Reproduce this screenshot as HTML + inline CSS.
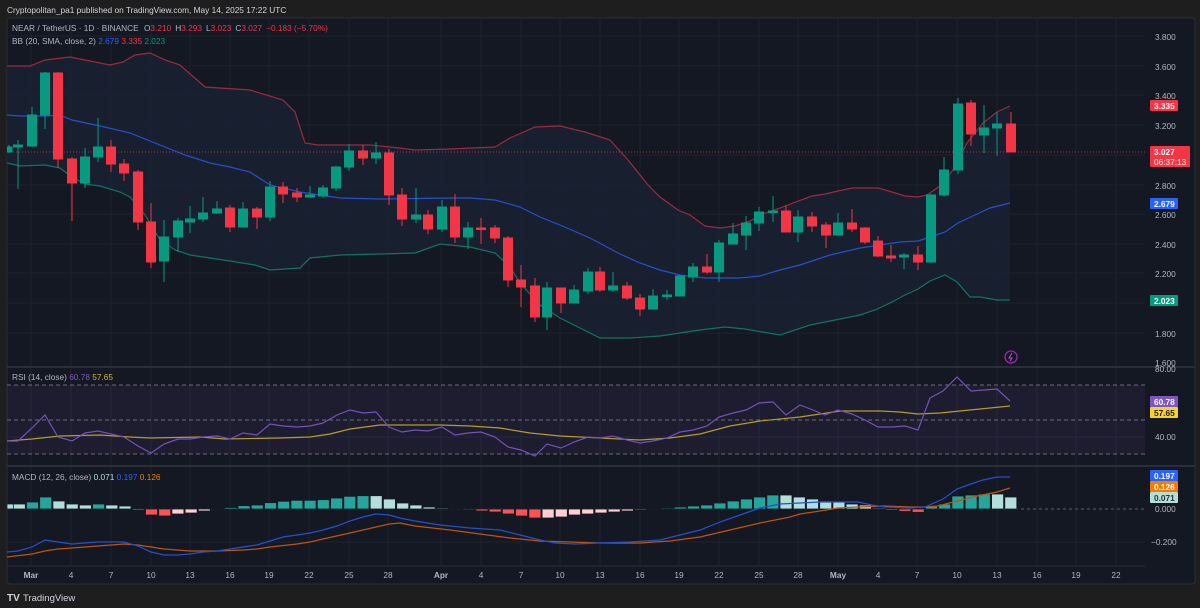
<!DOCTYPE html>
<html><head><meta charset="utf-8"><style>
html,body{margin:0;padding:0;background:#1e1e1e;width:1200px;height:608px;overflow:hidden}
svg{display:block}
text{font-family:"Liberation Sans",sans-serif}
</style></head><body>
<svg width="1200" height="608" viewBox="0 0 1200 608" xmlns="http://www.w3.org/2000/svg">
<defs><clipPath id="c"><rect x="7" y="18" width="1138" height="548"/></clipPath></defs>
<rect x="0" y="0" width="1200" height="608" fill="#1e1e1e"/>
<rect x="7" y="18" width="1188" height="566" rx="3" fill="#141822" stroke="#2a2e39"/>
<text x="7" y="13" font-size="8.3" fill="#d1d4dc">Cryptopolitan_pa1 published on TradingView.com, May 14, 2025 17:22 UTC</text>
<!-- grid -->
<g stroke="#1e2230" stroke-width="1">
<line x1="7" y1="36" x2="1145" y2="36"/><line x1="7" y1="66" x2="1145" y2="66"/><line x1="7" y1="95" x2="1145" y2="95"/><line x1="7" y1="125" x2="1145" y2="125"/><line x1="7" y1="155" x2="1145" y2="155"/><line x1="7" y1="185" x2="1145" y2="185"/><line x1="7" y1="214" x2="1145" y2="214"/><line x1="7" y1="244" x2="1145" y2="244"/><line x1="7" y1="273" x2="1145" y2="273"/><line x1="7" y1="303" x2="1145" y2="303"/><line x1="7" y1="333" x2="1145" y2="333"/><line x1="7" y1="437" x2="1145" y2="437"/><line x1="7" y1="542" x2="1145" y2="542"/>
<line x1="31" y1="18" x2="31" y2="566"/><line x1="71" y1="18" x2="71" y2="566"/><line x1="111" y1="18" x2="111" y2="566"/><line x1="151" y1="18" x2="151" y2="566"/><line x1="190" y1="18" x2="190" y2="566"/><line x1="230" y1="18" x2="230" y2="566"/><line x1="269" y1="18" x2="269" y2="566"/><line x1="309" y1="18" x2="309" y2="566"/><line x1="349" y1="18" x2="349" y2="566"/><line x1="388" y1="18" x2="388" y2="566"/><line x1="441" y1="18" x2="441" y2="566"/><line x1="481" y1="18" x2="481" y2="566"/><line x1="521" y1="18" x2="521" y2="566"/><line x1="560" y1="18" x2="560" y2="566"/><line x1="600" y1="18" x2="600" y2="566"/><line x1="640" y1="18" x2="640" y2="566"/><line x1="679" y1="18" x2="679" y2="566"/><line x1="719" y1="18" x2="719" y2="566"/><line x1="759" y1="18" x2="759" y2="566"/><line x1="798" y1="18" x2="798" y2="566"/><line x1="838" y1="18" x2="838" y2="566"/><line x1="878" y1="18" x2="878" y2="566"/><line x1="917" y1="18" x2="917" y2="566"/><line x1="957" y1="18" x2="957" y2="566"/><line x1="997" y1="18" x2="997" y2="566"/><line x1="1037" y1="18" x2="1037" y2="566"/><line x1="1076" y1="18" x2="1076" y2="566"/><line x1="1116" y1="18" x2="1116" y2="566"/>
</g>
<g clip-path="url(#c)">
<polygon fill="#1a2234" fill-opacity="0.75" points="7,66 30,66 45,60 70,57 95,62 110,65 123,62 135,55 150,53 165,60 180,65 205,87 250,90 283,100 295,112 305,143 318,145 345,145 370,145 400,148 415,150 450,149 495,147 510,138 535,127 560,126 585,132 610,140 628,160 648,185 660,197 678,210 690,215 705,226 720,228 735,226 750,221 760,215 780,208 793,203 812,196 825,194 838,191 852,188 878,188 892,192 905,196 918,197 927,195 940,186 953,170 967,143 983,123 997,112 1010,106 1010,300 997,300 980,297 970,297 957,282 945,275 930,281 918,289 905,295 890,303 875,310 860,315 835,320 810,325 795,330 780,335 745,329 725,327 700,330 680,333 660,336 630,338 600,338 560,318 540,305 520,283 510,267 495,253 470,247 440,244 415,253 380,254 340,255 310,258 300,268 270,270 255,265 230,261 210,258 190,255 175,250 160,240 145,215 130,197 120,192 100,186 85,184 72,177 60,168 45,165 20,166 7,163"/>
<polyline fill="none" stroke="#9c2a3f" stroke-width="1.2" points="7,66 30,66 45,60 70,57 95,62 110,65 123,62 135,55 150,53 165,60 180,65 205,87 250,90 283,100 295,112 305,143 318,145 345,145 370,145 400,148 415,150 450,149 495,147 510,138 535,127 560,126 585,132 610,140 628,160 648,185 660,197 678,210 690,215 705,226 720,228 735,226 750,221 760,215 780,208 793,203 812,196 825,194 838,191 852,188 878,188 892,192 905,196 918,197 927,195 940,186 953,170 967,143 983,123 997,112 1010,106"/>
<polyline fill="none" stroke="#2450d0" stroke-width="1.2" points="7,115 20,116 45,116 60,115 72,120 100,126 130,133 160,145 185,155 210,163 230,167 250,172 270,185 300,192 340,198 380,199 450,198 470,198 495,200 520,207 540,217 560,225 590,238 620,254 640,263 660,270 680,275 705,278 740,278 760,276 780,270 800,265 830,255 860,248 880,245 900,242 918,241 930,237 945,232 958,223 975,215 990,208 1010,203"/>
<polyline fill="none" stroke="#137363" stroke-width="1.2" points="7,163 20,166 45,165 60,168 72,177 85,184 100,186 120,192 130,197 145,215 160,240 175,250 190,255 210,258 230,261 255,265 270,270 300,268 310,258 340,255 380,254 415,253 440,244 470,247 495,253 510,267 520,283 540,305 560,318 600,338 630,338 660,336 680,333 700,330 725,327 745,329 780,335 795,330 810,325 835,320 860,315 875,310 890,303 905,295 918,289 930,281 945,275 957,282 970,297 980,297 997,300 1010,300"/>
<line x1="7" y1="152" x2="1145" y2="152" stroke="#f23645" stroke-width="1" stroke-dasharray="1,2" opacity="0.7"/>
<g stroke-width="1">
<g fill="#089981" stroke="#089981">
<line x1="9" y1="145" x2="9" y2="153"/><rect x="7" y="147" width="5" height="5"/>
<line x1="18" y1="140" x2="18" y2="189"/><rect x="13.5" y="145" width="9" height="2"/>
<line x1="32" y1="107" x2="32" y2="147"/><rect x="27.5" y="115" width="9" height="31"/>
<line x1="45" y1="72" x2="45" y2="129"/><rect x="40.5" y="73" width="9" height="42"/>
<line x1="85" y1="148" x2="85" y2="188"/><rect x="80.5" y="157" width="9" height="26"/>
<line x1="98" y1="118" x2="98" y2="162"/><rect x="93.5" y="147" width="9" height="10"/>
<line x1="164" y1="220" x2="164" y2="282"/><rect x="159.5" y="237" width="9" height="24"/>
<line x1="178" y1="218" x2="178" y2="252"/><rect x="173.5" y="221" width="9" height="16"/>
<line x1="190" y1="206" x2="190" y2="233"/><rect x="185.5" y="219" width="9" height="3"/>
<line x1="203" y1="197" x2="203" y2="222"/><rect x="198.5" y="213" width="9" height="6"/>
<line x1="217" y1="201" x2="217" y2="214"/><rect x="212.5" y="209" width="9" height="4"/>
<line x1="243" y1="202" x2="243" y2="227"/><rect x="238.5" y="209" width="9" height="18"/>
<line x1="270" y1="181" x2="270" y2="221"/><rect x="265.5" y="187" width="9" height="30"/>
<line x1="310" y1="186" x2="310" y2="198"/><rect x="305.5" y="195" width="9" height="2"/>
<line x1="323" y1="185" x2="323" y2="198"/><rect x="318.5" y="188" width="9" height="8"/>
<line x1="336" y1="166" x2="336" y2="191"/><rect x="331.5" y="167" width="9" height="21"/>
<line x1="349" y1="144" x2="349" y2="171"/><rect x="344.5" y="151" width="9" height="16"/>
<line x1="376" y1="142" x2="376" y2="164"/><rect x="371.5" y="153" width="9" height="5"/>
<line x1="416" y1="188" x2="416" y2="223"/><rect x="411.5" y="215" width="9" height="4"/>
<line x1="442" y1="200" x2="442" y2="232"/><rect x="437.5" y="207" width="9" height="22"/>
<line x1="468" y1="222" x2="468" y2="249"/><rect x="463.5" y="228" width="9" height="9"/>
<line x1="547" y1="282" x2="547" y2="330"/><rect x="542.5" y="288" width="9" height="29"/>
<line x1="574" y1="285" x2="574" y2="303"/><rect x="569.5" y="290" width="9" height="13"/>
<line x1="588" y1="268" x2="588" y2="294"/><rect x="583.5" y="272" width="9" height="19"/>
<line x1="613" y1="272" x2="613" y2="292"/><rect x="608.5" y="286" width="9" height="4"/>
<line x1="653" y1="289" x2="653" y2="309"/><rect x="648.5" y="296" width="9" height="13"/>
<line x1="667" y1="290" x2="667" y2="300"/><rect x="662.5" y="295" width="9" height="1.5"/>
<line x1="680" y1="275" x2="680" y2="296"/><rect x="675.5" y="276" width="9" height="20"/>
<line x1="693" y1="263" x2="693" y2="282"/><rect x="688.5" y="267" width="9" height="10"/>
<line x1="719" y1="240" x2="719" y2="282"/><rect x="714.5" y="243" width="9" height="29"/>
<line x1="733" y1="223" x2="733" y2="244"/><rect x="728.5" y="234" width="9" height="10"/>
<line x1="746" y1="216" x2="746" y2="250"/><rect x="741.5" y="223" width="9" height="12"/>
<line x1="759" y1="207" x2="759" y2="231"/><rect x="754.5" y="212" width="9" height="11"/>
<line x1="773" y1="196" x2="773" y2="222"/><rect x="768.5" y="211" width="9" height="1.5"/>
<line x1="798" y1="210" x2="798" y2="242"/><rect x="793.5" y="217" width="9" height="15"/>
<line x1="838" y1="213" x2="838" y2="235"/><rect x="833.5" y="223" width="9" height="12"/>
<line x1="904" y1="253" x2="904" y2="269"/><rect x="899.5" y="255" width="9" height="2"/>
<line x1="931" y1="194" x2="931" y2="263"/><rect x="926.5" y="195" width="9" height="67"/>
<line x1="944" y1="157" x2="944" y2="197"/><rect x="939.5" y="170" width="9" height="25"/>
<line x1="958" y1="98" x2="958" y2="174"/><rect x="953.5" y="104" width="9" height="66"/>
<line x1="984" y1="105" x2="984" y2="153"/><rect x="979.5" y="128" width="9" height="7"/>
<line x1="997" y1="112" x2="997" y2="156"/><rect x="992.5" y="124" width="9" height="4"/>
</g>
<g fill="#f23645" stroke="#f23645">
<line x1="58" y1="72" x2="58" y2="168"/><rect x="53.5" y="73" width="9" height="86"/>
<line x1="72" y1="157" x2="72" y2="221"/><rect x="67.5" y="159" width="9" height="24"/>
<line x1="111" y1="140" x2="111" y2="172"/><rect x="106.5" y="147" width="9" height="17"/>
<line x1="124" y1="159" x2="124" y2="181"/><rect x="119.5" y="164" width="9" height="9"/>
<line x1="138" y1="170" x2="138" y2="230"/><rect x="133.5" y="172" width="9" height="50"/>
<line x1="151" y1="203" x2="151" y2="268"/><rect x="146.5" y="222" width="9" height="40"/>
<line x1="230" y1="205" x2="230" y2="232"/><rect x="225.5" y="208" width="9" height="19"/>
<line x1="257" y1="207" x2="257" y2="229"/><rect x="252.5" y="209" width="9" height="8"/>
<line x1="283" y1="182" x2="283" y2="203"/><rect x="278.5" y="187" width="9" height="7"/>
<line x1="297" y1="188" x2="297" y2="202"/><rect x="292.5" y="193" width="9" height="4"/>
<line x1="363" y1="145" x2="363" y2="165"/><rect x="358.5" y="151" width="9" height="7"/>
<line x1="389" y1="149" x2="389" y2="205"/><rect x="384.5" y="153" width="9" height="42"/>
<line x1="402" y1="188" x2="402" y2="226"/><rect x="397.5" y="195" width="9" height="24"/>
<line x1="428" y1="210" x2="428" y2="234"/><rect x="423.5" y="215" width="9" height="14"/>
<line x1="455" y1="194" x2="455" y2="243"/><rect x="450.5" y="207" width="9" height="30"/>
<line x1="481" y1="218" x2="481" y2="244"/><rect x="476.5" y="228" width="9" height="1.5"/>
<line x1="495" y1="225" x2="495" y2="243"/><rect x="490.5" y="228" width="9" height="10"/>
<line x1="508" y1="236" x2="508" y2="287"/><rect x="503.5" y="238" width="9" height="42"/>
<line x1="521" y1="265" x2="521" y2="307"/><rect x="516.5" y="280" width="9" height="7"/>
<line x1="535" y1="278" x2="535" y2="322"/><rect x="530.5" y="286" width="9" height="31"/>
<line x1="561" y1="288" x2="561" y2="313"/><rect x="556.5" y="288" width="9" height="15"/>
<line x1="600" y1="267" x2="600" y2="292"/><rect x="595.5" y="272" width="9" height="18"/>
<line x1="627" y1="282" x2="627" y2="300"/><rect x="622.5" y="286" width="9" height="12"/>
<line x1="640" y1="294" x2="640" y2="316"/><rect x="635.5" y="298" width="9" height="11"/>
<line x1="707" y1="254" x2="707" y2="274"/><rect x="702.5" y="267" width="9" height="5"/>
<line x1="786" y1="206" x2="786" y2="232"/><rect x="781.5" y="211" width="9" height="21"/>
<line x1="812" y1="212" x2="812" y2="232"/><rect x="807.5" y="217" width="9" height="9"/>
<line x1="826" y1="222" x2="826" y2="248"/><rect x="821.5" y="225" width="9" height="10"/>
<line x1="852" y1="209" x2="852" y2="232"/><rect x="847.5" y="223" width="9" height="6"/>
<line x1="865" y1="227" x2="865" y2="244"/><rect x="860.5" y="228" width="9" height="14"/>
<line x1="878" y1="236" x2="878" y2="257"/><rect x="873.5" y="241" width="9" height="15"/>
<line x1="891" y1="245" x2="891" y2="262"/><rect x="886.5" y="256" width="9" height="2"/>
<line x1="918" y1="246" x2="918" y2="270"/><rect x="913.5" y="255" width="9" height="7"/>
<line x1="971" y1="100" x2="971" y2="146"/><rect x="966.5" y="103" width="9" height="31"/>
<line x1="1011" y1="112" x2="1011" y2="152"/><rect x="1006.5" y="124" width="9" height="28"/>
</g>
</g>
</g>
<circle cx="1011" cy="357" r="6" fill="none" stroke="#9c27b0" stroke-width="1.3"/>
<path d="M1012,353 L1009,358 L1012,358 L1010,361" fill="none" stroke="#c04fd6" stroke-width="1"/>
<line x1="7" y1="367" x2="1195" y2="367" stroke="#2a2e39" stroke-width="2"/>
<line x1="7" y1="466" x2="1195" y2="466" stroke="#2a2e39" stroke-width="2"/>
<rect x="7" y="385" width="1138" height="69" fill="#7e57c2" fill-opacity="0.09"/>
<g stroke="#6a6d78" stroke-dasharray="4,3" stroke-width="1">
<line x1="7" y1="385" x2="1145" y2="385"/><line x1="7" y1="420" x2="1145" y2="420"/><line x1="7" y1="454" x2="1145" y2="454"/>
</g>
<polyline fill="none" stroke="#b59a2e" stroke-width="1.2" points="7,441 32,439 60,436 100,435 130,437 150,438 200,437 225,439 280,438 310,437 330,434 350,429 380,425 400,425 440,425 470,426 500,428 530,433 560,436 600,438 640,440 670,438 700,434 730,426 760,421 800,417 840,411 880,411 900,412 918,414 940,413 960,411 1010,406"/>
<polyline fill="none" stroke="#7451b8" stroke-width="1.2" points="7,441 18,441 32,428 45,415 58,437 72,441 85,433 98,431 111,434 124,437 138,446 151,453 164,444 178,439 190,439 203,437 217,436 230,439 243,433 257,435 270,424 283,426 297,427 310,426 323,423 337,415 350,410 363,413 376,412 389,427 402,432 415,430 428,431 442,427 455,435 468,433 481,432 495,437 508,447 521,450 535,456 547,444 561,448 574,442 588,437 600,438 613,436 627,440 640,443 653,441 667,438 680,432 693,430 707,426 719,417 733,413 746,410 759,403 773,402 786,415 800,405 813,410 825,415 838,410 852,414 865,420 878,427 892,427 905,426 918,430 930,398 943,391 957,377 971,391 984,390 997,389 1010,401"/>
<line x1="7" y1="509" x2="1145" y2="509" stroke="#5d606b" stroke-dasharray="3,3"/>
<g stroke="#141822" stroke-width="0.8" clip-path="url(#c)">
<rect x="7" y="504" width="12" height="5" fill="#b2dfdb"/><rect x="13.3" y="504" width="12" height="5" fill="#b2dfdb"/><rect x="26.5" y="502" width="12" height="7" fill="#26a69a"/><rect x="39.7" y="497" width="12" height="12" fill="#26a69a"/><rect x="52.9" y="501" width="12" height="8" fill="#b2dfdb"/><rect x="66.2" y="504" width="12" height="5" fill="#b2dfdb"/><rect x="79.4" y="505" width="12" height="4" fill="#b2dfdb"/><rect x="92.6" y="504" width="12" height="5" fill="#26a69a"/><rect x="105.8" y="505" width="12" height="4" fill="#b2dfdb"/><rect x="119" y="506" width="12" height="3" fill="#b2dfdb"/>
<rect x="132.3" y="509" width="12" height="1.3" fill="#ff5252"/><rect x="145.5" y="509" width="12" height="6" fill="#ff5252"/><rect x="158.7" y="509" width="12" height="7" fill="#ff5252"/><rect x="171.9" y="509" width="12" height="5" fill="#ffcdd2"/><rect x="185.1" y="509" width="12" height="4" fill="#ffcdd2"/><rect x="198.3" y="509" width="12" height="2" fill="#ffcdd2"/>
<rect x="211.6" y="508.5" width="12" height="0.5" fill="#26a69a"/><rect x="224.8" y="507.5" width="12" height="1.5" fill="#26a69a"/><rect x="238" y="505.7" width="12" height="3.3" fill="#26a69a"/><rect x="251.2" y="505" width="12" height="4" fill="#26a69a"/><rect x="264.5" y="502.7" width="12" height="6.3" fill="#26a69a"/><rect x="277.7" y="501.3" width="12" height="7.7" fill="#26a69a"/><rect x="290.9" y="500.3" width="12" height="8.7" fill="#26a69a"/><rect x="304.1" y="500.3" width="12" height="8.7" fill="#26a69a"/><rect x="317.3" y="499.7" width="12" height="9.3" fill="#26a69a"/><rect x="330.6" y="498" width="12" height="11" fill="#26a69a"/><rect x="343.8" y="496.3" width="12" height="12.7" fill="#26a69a"/><rect x="357" y="495.7" width="12" height="13.3" fill="#26a69a"/><rect x="370.2" y="495.7" width="12" height="13.3" fill="#b2dfdb"/><rect x="383.4" y="499" width="12" height="10" fill="#b2dfdb"/><rect x="396.7" y="503" width="12" height="6" fill="#b2dfdb"/><rect x="409.9" y="505" width="12" height="4" fill="#b2dfdb"/><rect x="423.1" y="507" width="12" height="2" fill="#b2dfdb"/><rect x="436.3" y="508" width="12" height="1" fill="#b2dfdb"/><rect x="449.5" y="508.5" width="12" height="0.5" fill="#b2dfdb"/>
<rect x="462.8" y="509" width="12" height="1" fill="#ff5252"/><rect x="476" y="509" width="12" height="2" fill="#ff5252"/><rect x="489.2" y="509" width="12" height="3" fill="#ff5252"/><rect x="502.4" y="509" width="12" height="5" fill="#ff5252"/><rect x="515.6" y="509" width="12" height="7" fill="#ff5252"/><rect x="528.9" y="509" width="12" height="9" fill="#ff5252"/><rect x="542.1" y="509" width="12" height="9" fill="#ffcdd2"/><rect x="555.3" y="509" width="12" height="8" fill="#ffcdd2"/><rect x="568.5" y="509" width="12" height="6" fill="#ffcdd2"/><rect x="581.7" y="509" width="12" height="5" fill="#ffcdd2"/><rect x="595" y="509" width="12" height="4" fill="#ffcdd2"/><rect x="608.2" y="509" width="12" height="3" fill="#ffcdd2"/><rect x="621.4" y="509" width="12" height="2" fill="#ffcdd2"/><rect x="634.6" y="509" width="12" height="1" fill="#ffcdd2"/>
<rect x="647.8" y="508.5" width="12" height="0.5" fill="#26a69a"/><rect x="661.1" y="508" width="12" height="1" fill="#26a69a"/><rect x="674.3" y="507" width="12" height="2" fill="#26a69a"/><rect x="687.5" y="506" width="12" height="3" fill="#26a69a"/><rect x="700.7" y="505" width="12" height="4" fill="#26a69a"/><rect x="713.9" y="503" width="12" height="6" fill="#26a69a"/><rect x="727.2" y="501" width="12" height="8" fill="#26a69a"/><rect x="740.4" y="499" width="12" height="10" fill="#26a69a"/><rect x="753.6" y="497" width="12" height="12" fill="#26a69a"/><rect x="766.8" y="495" width="12" height="14" fill="#26a69a"/><rect x="780" y="495" width="12" height="14" fill="#b2dfdb"/><rect x="793.3" y="497" width="12" height="12" fill="#b2dfdb"/><rect x="806.5" y="499" width="12" height="10" fill="#b2dfdb"/><rect x="819.7" y="501" width="12" height="8" fill="#b2dfdb"/><rect x="832.9" y="502" width="12" height="7" fill="#b2dfdb"/><rect x="846.1" y="504" width="12" height="5" fill="#b2dfdb"/><rect x="859.4" y="505" width="12" height="4" fill="#b2dfdb"/><rect x="872.6" y="508" width="12" height="1" fill="#b2dfdb"/>
<rect x="885.8" y="509" width="12" height="1.3" fill="#ff5252"/><rect x="899" y="509" width="12" height="2.3" fill="#ff5252"/><rect x="912.2" y="509" width="12" height="3.3" fill="#ff5252"/>
<rect x="925.5" y="506.3" width="12" height="2.7" fill="#26a69a"/><rect x="938.7" y="504" width="12" height="5" fill="#26a69a"/><rect x="951.9" y="496" width="12" height="13" fill="#26a69a"/><rect x="965.1" y="495" width="12" height="14" fill="#26a69a"/><rect x="978.3" y="494" width="12" height="15" fill="#26a69a"/><rect x="991.6" y="494" width="12" height="15" fill="#b2dfdb"/><rect x="1004.8" y="497" width="12" height="12" fill="#b2dfdb"/>
</g>
<polyline fill="none" stroke="#c1530f" stroke-width="1.2" points="7,557 32,554 45,551 58,549 72,548 98,546 124,544 138,545 151,547 164,549 190,551 217,551 243,550 257,549 270,547 297,544 310,542 323,539 350,533 376,527 389,524 400,523 415,526 450,530 480,534 510,538 540,541 570,542 600,543 640,543 670,541 700,537 730,530 760,523 790,517 800,514 820,511 838,508 858,507 885,506 910,507 925,507 938,506 957,501 977,496 997,492 1010,488"/>
<polyline fill="none" stroke="#2450d0" stroke-width="1.2" points="7,552 18,551 32,547 45,540 58,542 72,544 85,543 98,542 124,542 138,546 151,552 164,555 178,555 190,554 203,552 217,551 230,549 243,547 257,545 270,541 283,537 297,535 310,533 323,530 337,526 350,521 363,517 376,514 389,515 400,518 415,521 440,525 470,528 500,530 520,535 540,540 555,543 575,544 600,543 630,542 660,540 680,535 700,530 720,522 740,515 760,508 780,504 800,503 820,502 858,502 872,505 885,507 910,508 925,507 943,499 957,489 971,484 983,480 997,477 1010,477"/>
<g font-size="8.3">
<text x="12" y="31" fill="#b2b5be">NEAR / TetherUS · 1D · BINANCE <tspan dx="3">O</tspan><tspan fill="#f23645">3.210</tspan><tspan dx="4">H</tspan><tspan fill="#f23645">3.293</tspan><tspan dx="4">L</tspan><tspan fill="#f23645">3.023</tspan><tspan dx="4">C</tspan><tspan fill="#f23645">3.027</tspan><tspan dx="4" fill="#f23645">−0.183 (−5.70%)</tspan></text>
<text x="12" y="44" fill="#b2b5be">BB (20, SMA, close, 2) <tspan fill="#2962ff">2.679</tspan> <tspan fill="#f23645">3.335</tspan> <tspan fill="#089981">2.023</tspan></text>
<text x="12" y="380" fill="#b2b5be">RSI (14, close) <tspan fill="#7e57c2">60.78</tspan> <tspan fill="#d4b42a">57.65</tspan></text>
<text x="12" y="480" fill="#b2b5be">MACD (12, 26, close) <tspan fill="#b2dfdb">0.071</tspan> <tspan fill="#2962ff">0.197</tspan> <tspan fill="#f57c00">0.126</tspan></text>
</g>
<g font-size="8.3" fill="#b2b5be">
<text x="1155" y="40">3.800</text><text x="1155" y="70">3.600</text><text x="1155" y="99">3.400</text><text x="1155" y="129">3.200</text><text x="1155" y="189">2.800</text><text x="1155" y="218">2.600</text><text x="1155" y="248">2.400</text><text x="1155" y="277">2.200</text><text x="1155" y="337">1.800</text><text x="1155" y="366">1.600</text>
<text x="1155" y="372">80.00</text><text x="1155" y="440">40.00</text>
<text x="1155" y="512">0.000</text><text x="1151" y="545">−0.200</text>
</g>
<g font-size="8.3" font-weight="bold">
<rect x="1150" y="100" width="28" height="11" rx="1" fill="#f23645"/><text x="1154" y="109" fill="#fff">3.335</text>
<rect x="1150" y="146" width="40" height="21" rx="1" fill="#f23645"/><text x="1154" y="155" fill="#fff">3.027</text><text x="1154" y="165" fill="#fff" font-weight="normal">06:37:13</text>
<rect x="1150" y="198" width="28" height="11" rx="1" fill="#2962ff"/><text x="1154" y="207" fill="#fff">2.679</text>
<rect x="1150" y="295" width="28" height="11" rx="1" fill="#089981"/><text x="1154" y="304" fill="#fff">2.023</text>
<rect x="1150" y="396" width="28" height="11" rx="1" fill="#7e57c2"/><text x="1154" y="405" fill="#fff">60.78</text>
<rect x="1150" y="407" width="28" height="11" rx="1" fill="#f7d12e"/><text x="1154" y="416" fill="#222">57.65</text>
<rect x="1150" y="470" width="28" height="11" rx="1" fill="#2962ff"/><text x="1154" y="479" fill="#fff">0.197</text>
<rect x="1150" y="481" width="28" height="11" rx="1" fill="#f57c00"/><text x="1154" y="490" fill="#fff">0.126</text>
<rect x="1150" y="492" width="28" height="11" rx="1" fill="#b2dfdb"/><text x="1154" y="501" fill="#333">0.071</text>
</g>
<line x1="7" y1="566" x2="1145" y2="566" stroke="#2a2e39"/>
<g font-size="8.3" fill="#b2b5be" text-anchor="middle">
<text x="31" y="578" font-weight="bold">Mar</text><text x="71" y="578">4</text><text x="111" y="578">7</text><text x="151" y="578">10</text><text x="190" y="578">13</text><text x="230" y="578">16</text><text x="269" y="578">19</text><text x="309" y="578">22</text><text x="349" y="578">25</text><text x="388" y="578">28</text><text x="441" y="578" font-weight="bold">Apr</text><text x="481" y="578">4</text><text x="521" y="578">7</text><text x="560" y="578">10</text><text x="600" y="578">13</text><text x="640" y="578">16</text><text x="679" y="578">19</text><text x="719" y="578">22</text><text x="759" y="578">25</text><text x="798" y="578">28</text><text x="838" y="578" font-weight="bold">May</text><text x="878" y="578">4</text><text x="917" y="578">7</text><text x="957" y="578">10</text><text x="997" y="578">13</text><text x="1037" y="578">16</text><text x="1076" y="578">19</text><text x="1116" y="578">22</text>
</g>
<text x="7" y="601" font-size="10" fill="#d1d4dc" font-weight="bold">TV</text>
<text x="23" y="601" font-size="9.5" fill="#d1d4dc">TradingView</text>
</svg>
</body></html>
